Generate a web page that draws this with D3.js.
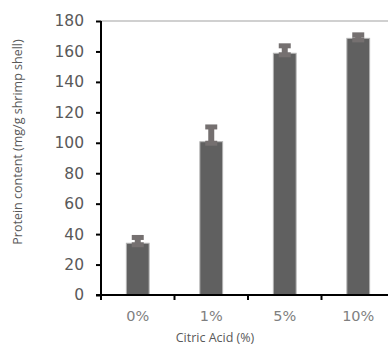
<!DOCTYPE html>
<html>
<head>
<meta charset="utf-8">
<script src="https://cdn.jsdelivr.net/npm/d3@7"></script>
<style>
  body { margin: 0; background: #fff; }
  text { font-family: "Open Sans", "Liberation Sans", Arial, sans-serif; }
</style>
</head>
<body>
<div id="chart"></div>
<script>
var categories = ["0%", "1%", "5%", "10%"];
var protein = [34, 100.7, 158.8, 168.6];
var errUp = [3.8, 9.7, 4.9, 2.3];
var errDown = [1, 1, 1, 1];
var yTicks = [0, 20, 40, 60, 80, 100, 120, 140, 160, 180];

var svgWidth = 388;
var svgHeight = 347;

var margin = { top: 21, right: -7, bottom: 52, left: 101 };
var width = svgWidth - margin.left - margin.right;
var height = svgHeight - margin.top - margin.bottom;

var svg = d3.select("#chart")
  .append("svg")
  .attr("width", svgWidth)
  .attr("height", svgHeight);

var chartGroup = svg.append("g")
  .attr("transform", `translate(${margin.left}, ${margin.top})`);

var data = categories.map(function(c, i) {
  return { cat: c, value: protein[i], up: errUp[i], down: errDown[i] };
});

var xScale = d3.scaleBand()
  .domain(categories)
  .range([0, width])
  .paddingInner(0.69)
  .paddingOuter(0.345);

var yScale = d3.scaleLinear()
  .domain([0, 180])
  .range([height, 0]);

// top gridline
chartGroup.append("line")
  .attr("x1", 0).attr("x2", width + 10)
  .attr("y1", yScale(180)).attr("y2", yScale(180))
  .attr("stroke", "#c0c0c0")
  .attr("stroke-width", 1.5);

// bars
chartGroup.selectAll(".bar")
  .data(data)
  .enter()
  .append("rect")
  .attr("class", "bar")
  .attr("x", d => xScale(d.cat))
  .attr("y", d => yScale(d.value))
  .attr("width", xScale.bandwidth())
  .attr("height", d => height - yScale(d.value))
  .attr("fill", "#606060")
  .attr("stroke", "#b4b4b4")
  .attr("stroke-width", 1);

// error bars
var errColor = "#757070";
var errGroup = chartGroup.selectAll(".err")
  .data(data)
  .enter()
  .append("g")
  .attr("class", "err")
  .attr("transform", d => `translate(${xScale(d.cat) + xScale.bandwidth() / 2}, 0)`);

errGroup.append("line")
  .attr("y1", d => yScale(d.value - d.down))
  .attr("y2", d => yScale(d.value + d.up))
  .attr("stroke", errColor)
  .attr("stroke-width", 6);

errGroup.append("line")
  .attr("x1", -6).attr("x2", 6)
  .attr("y1", d => yScale(d.value + d.up))
  .attr("y2", d => yScale(d.value + d.up))
  .attr("stroke", errColor)
  .attr("stroke-width", 5);

errGroup.append("line")
  .attr("x1", -6).attr("x2", 6)
  .attr("y1", d => yScale(d.value - d.down))
  .attr("y2", d => yScale(d.value - d.down))
  .attr("stroke", errColor)
  .attr("stroke-width", 5);

// y axis
var leftAxis = d3.axisLeft(yScale)
  .tickValues(yTicks)
  .tickSize(5)
  .tickPadding(12);

var yAxis = chartGroup.append("g")
  .call(leftAxis);
yAxis.select(".domain")
  .attr("d", `M0,${height + 5}V0`)
  .attr("stroke", "#000")
  .attr("stroke-width", 2);
yAxis.selectAll(".tick line").attr("stroke", "#000").attr("stroke-width", 2);
yAxis.selectAll(".tick text")
  .attr("fill", "#595959")
  .style("font-family", "'DejaVu Sans', sans-serif")
  .style("font-size", "15.5px");

// x axis
var bottomAxis = d3.axisBottom(xScale)
  .tickSize(0)
  .tickPadding(16);

var xAxis = chartGroup.append("g")
  .attr("transform", `translate(0, ${height})`)
  .call(bottomAxis);
xAxis.select(".domain")
  .attr("d", `M-5,0H${width}`)
  .attr("stroke", "#000")
  .attr("stroke-width", 2);
xAxis.selectAll(".tick text")
  .attr("fill", "#7f7f7f")
  .style("font-family", "'DejaVu Sans', sans-serif")
  .style("font-size", "14.5px");

// x category separators
var step = xScale.step();
var sepGroup = xAxis.append("g");
sepGroup.selectAll("line")
  .data(d3.range(categories.length))
  .enter()
  .append("line")
  .attr("x1", i => i * step)
  .attr("x2", i => i * step)
  .attr("y1", 0)
  .attr("y2", 5)
  .attr("stroke", "#000")
  .attr("stroke-width", 2);

// axis titles
chartGroup.append("text")
  .attr("x", 114)
  .attr("y", height + 47)
  .attr("text-anchor", "middle")
  .attr("fill", "#595959")
  .style("font-size", "12.5px")
  .text("Citric Acid (%)");

chartGroup.append("text")
  .attr("transform", "rotate(-90)")
  .attr("x", -(height / 2) + 16)
  .attr("y", -79)
  .attr("text-anchor", "middle")
  .attr("fill", "#595959")
  .style("font-size", "12.5px")
  .text("Protein content (mg/g shrimp shell)");
</script>
</body>
</html>
